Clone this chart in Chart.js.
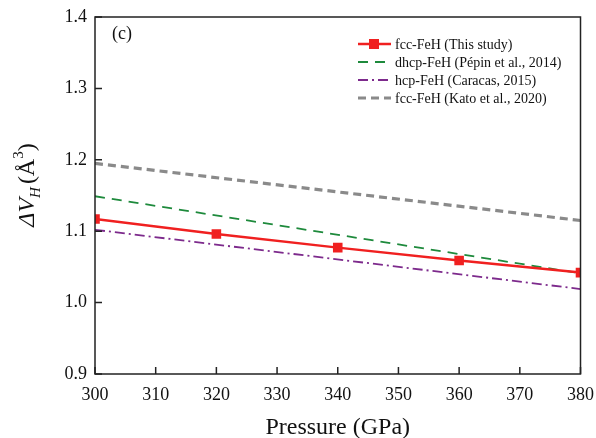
<!DOCTYPE html>
<html><head><meta charset="utf-8">
<script src="https://cdn.jsdelivr.net/npm/chart.js@4.4.1/dist/chart.umd.min.js"></script>
<style>html,body{margin:0;padding:0;background:#fff}#wrap{width:596px;height:438px}</style>
</head><body><div id="wrap"><canvas id="c" width="596" height="438"></canvas></div>
<script>
const pressures = [300, 320, 340, 360, 380];
const fccThisStudy = [1.117, 1.096, 1.077, 1.059, 1.042];
const dhcpPressures = [300, 380];
const dhcpPepin = [1.149, 1.041];
const hcpPressures = [300, 380];
const hcpCaracas = [1.102, 1.019];
const katoPressures = [300, 380];
const fccKato = [1.195, 1.115];
const xTicks = [300, 310, 320, 330, 340, 350, 360, 370, 380];
const yTicks = [0.9, 1.0, 1.1, 1.2, 1.3, 1.4];
const seriesNames = ['fcc-FeH (This study)', 'dhcp-FeH (Pépin et al., 2014)', 'hcp-FeH (Caracas, 2015)', 'fcc-FeH (Kato et al., 2020)'];

const SERIF = '"Liberation Serif","Times New Roman",serif';
const pts = (xs, ys) => xs.map((x, i) => ({x, y: ys[i]}));

const framePlugin = {
  id: 'frame',
  afterDatasetsDraw(chart) {
    const ctx = chart.ctx, a = chart.chartArea;
    const xs = chart.scales.x, ys = chart.scales.y;
    ctx.save();
    ctx.strokeStyle = '#222'; ctx.lineWidth = 1.5; ctx.setLineDash([]);
    ctx.strokeRect(a.left, a.top, a.right - a.left, a.bottom - a.top);
    ctx.beginPath();
    xTicks.forEach(v => { const px = xs.getPixelForValue(v); ctx.moveTo(px, a.bottom); ctx.lineTo(px, a.bottom - 7); });
    yTicks.forEach(v => { const py = ys.getPixelForValue(v); ctx.moveTo(a.left, py); ctx.lineTo(a.left + 7, py); });
    ctx.stroke();
    // panel label
    ctx.fillStyle = '#111'; ctx.font = '18px ' + SERIF; ctx.textBaseline = 'middle'; ctx.textAlign = 'left';
    ctx.fillText('(c)', 112, 34);
    // legend
    const ds = chart.data.datasets;
    ctx.font = '14px ' + SERIF;
    ds.forEach((d, i) => {
      const y = 44 + i * 18;
      ctx.strokeStyle = d.borderColor; ctx.lineWidth = d.borderWidth;
      ctx.setLineDash(d.borderDash || []);
      ctx.beginPath(); ctx.moveTo(358, y); ctx.lineTo(391, y); ctx.stroke();
      ctx.setLineDash([]);
      if (d.pointRadius > 0) { ctx.fillStyle = d.pointBackgroundColor; ctx.fillRect(374 - 5, y - 5, 10, 10); }
      ctx.fillStyle = '#111'; ctx.fillText(d.label, 395, y + 1);
    });
    // axis titles
    ctx.textAlign = 'center'; ctx.textBaseline = 'alphabetic';
    ctx.font = '24px ' + SERIF;
    ctx.fillText('Pressure (GPa)', (a.left + a.right) / 2, 434);
    // y title with sub/superscript
    const parts = [
      {t: 'ΔV', f: 'italic 24px ' + SERIF, dy: 0},
      {t: 'H', f: 'italic 15px ' + SERIF, dy: 6},
      {t: '(Å', f: '24px ' + SERIF, dy: 0},
      {t: '3', f: '15px ' + SERIF, dy: -11},
      {t: ')', f: '24px ' + SERIF, dy: 0}
    ];
    let w = 0;
    parts.forEach(p => { ctx.font = p.f; p.w = ctx.measureText(p.t).width; w += p.w; });
    w += 3;
    ctx.translate(34, 185); ctx.rotate(-Math.PI / 2);
    ctx.textAlign = 'left';
    let x = -w / 2;
    parts.forEach((p, i) => { ctx.font = p.f; ctx.fillText(p.t, x, p.dy); x += p.w + (i === 1 ? 3 : 0); });
    ctx.restore();
  }
};

new Chart(document.getElementById('c'), {
  type: 'line',
  data: {
    datasets: [
      {label: seriesNames[0], data: pts(pressures, fccThisStudy), borderColor: '#f02020', backgroundColor: '#f02020',
       pointBackgroundColor: '#f02020', pointBorderColor: '#f02020', borderWidth: 2.5, pointStyle: 'rect', pointRadius: 5, order: 0},
      {label: seriesNames[1], data: pts(dhcpPressures, dhcpPepin), borderColor: '#1e8a3c', borderWidth: 1.8, borderDash: [10, 7], pointRadius: 0, order: 1},
      {label: seriesNames[2], data: pts(hcpPressures, hcpCaracas), borderColor: '#7d2a8c', borderWidth: 1.8, borderDash: [10, 4, 2, 4], pointRadius: 0, order: 2},
      {label: seriesNames[3], data: pts(katoPressures, fccKato), borderColor: '#8a8a8a', borderWidth: 3.2, borderDash: [8, 5], pointRadius: 0, order: 3}
    ]
  },
  options: {
    responsive: false, animation: false, devicePixelRatio: 1,
    layout: {padding: {top: 17, right: 10, left: 0, bottom: 0}},
    plugins: {legend: {display: false}, tooltip: {enabled: false}},
    scales: {
      x: {type: 'linear', min: 300, max: 380,
          afterBuildTicks: s => { s.ticks = xTicks.map(v => ({value: v})); },
          afterFit: s => { s.height = 64; },
          grid: {display: false}, border: {display: false},
          ticks: {color: '#111', font: {family: SERIF, size: 18}, padding: 2, maxRotation: 0}},
      y: {type: 'linear', min: 0.9, max: 1.4,
          afterBuildTicks: s => { s.ticks = yTicks.map(v => ({value: v})); },
          afterFit: s => { s.width = 95; },
          grid: {display: false}, border: {display: false},
          ticks: {color: '#111', font: {family: SERIF, size: 18}, padding: 0, callback: v => v.toFixed(1)}}
    }
  },
  plugins: [framePlugin]
});
</script></body></html>
